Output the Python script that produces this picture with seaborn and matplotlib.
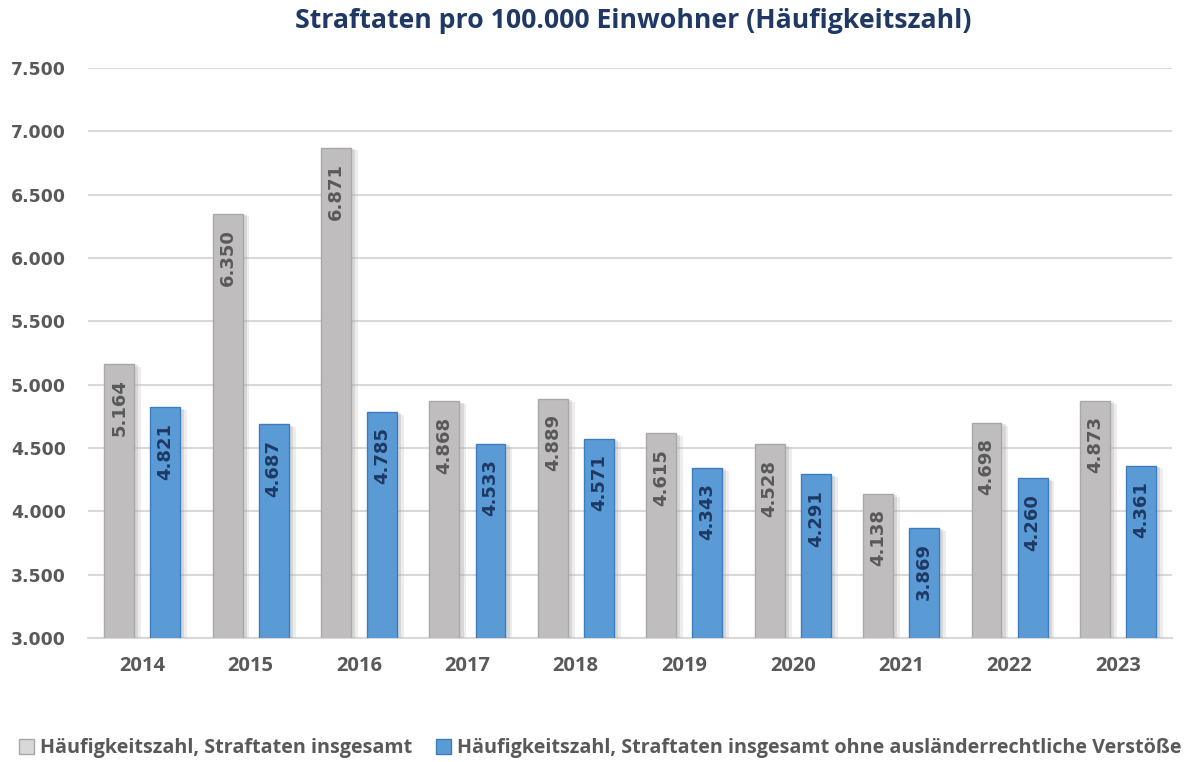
import pandas as pd
import matplotlib.pyplot as plt
import matplotlib.patheffects as pe
from matplotlib.patches import Patch
import seaborn as sns

# Data
years = ['2014', '2015', '2016', '2017', '2018', '2019', '2020', '2021', '2022', '2023']
total = [5164, 6350, 6871, 4868, 4889, 4615, 4528, 4138, 4698, 4873]
without_foreign = [4821, 4687, 4785, 4533, 4571, 4343, 4291, 3869, 4260, 4361]
series_names = ['Häufigkeitszahl, Straftaten insgesamt',
                'Häufigkeitszahl, Straftaten insgesamt ohne ausländerrechtliche Verstöße']
yticks = [3000, 3500, 4000, 4500, 5000, 5500, 6000, 6500, 7000, 7500]

df = pd.DataFrame({
    'Jahr': years * 2,
    'Wert': total + without_foreign,
    'Reihe': [series_names[0]] * len(years) + [series_names[1]] * len(years),
})

grey = '#C0BDBE'
grey_edge = '#A9A7A7'
blue = '#5B9BD5'
blue_edge = '#3D7CBF'
text_grey = '#595959'
navy = '#1F3864'

sns.set_style('white')
plt.rcParams['font.family'] = ['DejaVu Sans']

fig = plt.figure(figsize=(11.84, 7.62), dpi=100)
ax = fig.add_axes([0.0743, 0.1627, 0.9157, 0.7481])

sns.barplot(data=df, x='Jahr', y='Wert', hue='Reihe', hue_order=series_names,
            palette=[grey, blue], saturation=1, width=0.85, gap=0.35, legend=False, ax=ax,
            zorder=3)

fmt = lambda v: f'{v:,}'.replace(',', '.')
for cont, ec, tc in zip(ax.containers, [grey_edge, blue_edge], [text_grey, navy]):
    for bar, val in zip(cont, cont.datavalues):
        bar.set_edgecolor(ec)
        bar.set_linewidth(1.0)
        # soft drop shadow to the lower right
        bar.set_path_effects([pe.SimplePatchShadow(offset=(5, -2), shadow_rgbFace='#BBBBBB', alpha=0.25),
                              pe.SimplePatchShadow(offset=(3, -1), shadow_rgbFace='#999999', alpha=0.25),
                              pe.Normal()])
        ax.annotate(fmt(int(val)), (bar.get_x() + bar.get_width() / 2, bar.get_height()),
                    xytext=(0, -11), textcoords='offset points', rotation=90,
                    ha='center', va='top', color=tc, fontsize=13, fontweight='bold', zorder=5)

ax.set_ylim(3000, 7500)
ax.set_xlim(-0.5, len(years) - 0.5)
ax.set_yticks(yticks)
ax.set_yticklabels([fmt(v) for v in yticks], fontsize=12.5, fontweight='bold', color=text_grey)
ax.tick_params(axis='y', length=0, pad=16)
ax.tick_params(axis='x', length=0, pad=13)
for lbl in ax.get_xticklabels():
    lbl.set_fontfamily('Open Sans')
    lbl.set_fontweight('bold')
    lbl.set_fontsize(14.5)
    lbl.set_color(text_grey)
ax.set_xlabel('')
ax.set_ylabel('')
ax.grid(axis='y', color='#D9D9D9', linewidth=1.5, zorder=0)
ax.set_axisbelow(True)
for side in ['left', 'right', 'top']:
    ax.spines[side].set_visible(False)
ax.spines['bottom'].set_color('#D9D9D9')
ax.spines['bottom'].set_linewidth(1.5)

fig.text(0.535, 0.973, 'Straftaten pro 100.000 Einwohner (Häufigkeitszahl)', ha='center', va='center',
         fontsize=19.2, fontweight='bold', color=navy, family='Open Sans')

handles = [Patch(facecolor='#D9D8D8', edgecolor=grey_edge), Patch(facecolor=blue, edgecolor=blue_edge)]
fig.legend(handles, series_names, loc='center', bbox_to_anchor=(0.507, 0.018), ncol=2, frameon=False,
           prop={'family': 'Open Sans', 'weight': 'bold', 'size': 14.2}, labelcolor=text_grey,
           handlelength=0.75, handleheight=0.75, handletextpad=0.3, columnspacing=1.2)

fig.savefig('out.png', dpi=100)
